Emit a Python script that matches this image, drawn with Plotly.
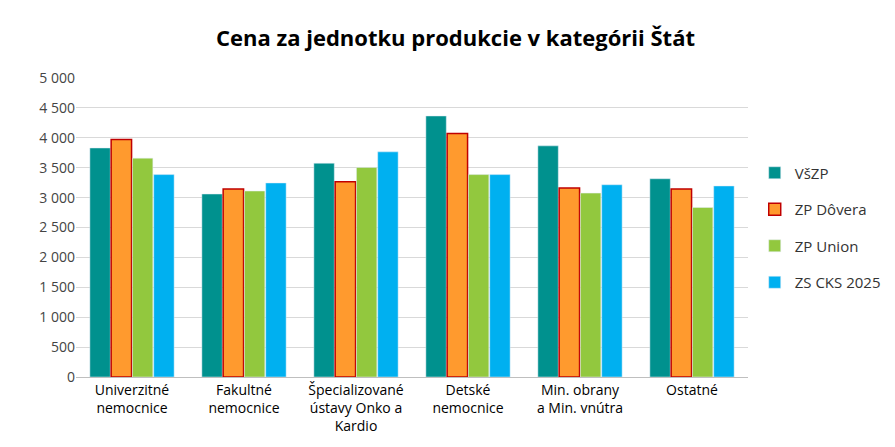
import plotly.graph_objects as go

categories = ["Univerzitné<br>nemocnice", "Fakultné<br>nemocnice", "Špecializované<br>ústavy Onko a<br>Kardio",
              "Detské<br>nemocnice", "Min. obrany<br>a Min. vnútra", "Ostatné"]
vszp = [3830, 3060, 3575, 4365, 3865, 3315]
dovera = [3970, 3145, 3265, 4070, 3160, 3145]
union = [3660, 3110, 3505, 3385, 3075, 2835]
cks = [3385, 3245, 3765, 3385, 3215, 3195]

fig = go.Figure()
fig.add_bar(x=categories, y=vszp, name="VšZP", marker_color="#00918E", legendgroup="a")
fig.add_bar(x=categories, y=dovera, name="ZP Dôvera", legendgroup="b",
            marker=dict(color="#FF9A2E", line=dict(color="#C00000", width=1.5)))
fig.add_bar(x=categories, y=union, name="ZP Union", marker_color="#92C83E", legendgroup="c")
fig.add_bar(x=categories, y=cks, name="ZS CKS 2025", marker_color="#00B0F0", legendgroup="d")

fig.update_layout(
    width=895, height=447,
    title=dict(text="<b>Cena za jednotku produkcie v kategórii Štát</b>", x=0.5, xanchor="center", y=0.95,
               font=dict(size=22, color="black")),
    font=dict(family="Open Sans", size=14, color="#333"),
    plot_bgcolor="white", paper_bgcolor="white",
    bargap=0.24, bargroupgap=0.04,
    margin=dict(l=68, r=155, t=70, b=78),
    legend=dict(x=1.01, y=0.5, yanchor="middle", font=dict(size=15), itemwidth=30, tracegroupgap=14),
    separators=", ",
)
fig.update_yaxes(range=[0, 5000], dtick=500, tickformat=",d", showgrid=True, gridcolor="#D9D9D9",
                 tickfont=dict(size=14, color="#444"), zeroline=False)
fig.update_xaxes(showline=True, linecolor="#BFBFBF", tickfont=dict(size=14, color="black"))
fig.write_html("out.html")
